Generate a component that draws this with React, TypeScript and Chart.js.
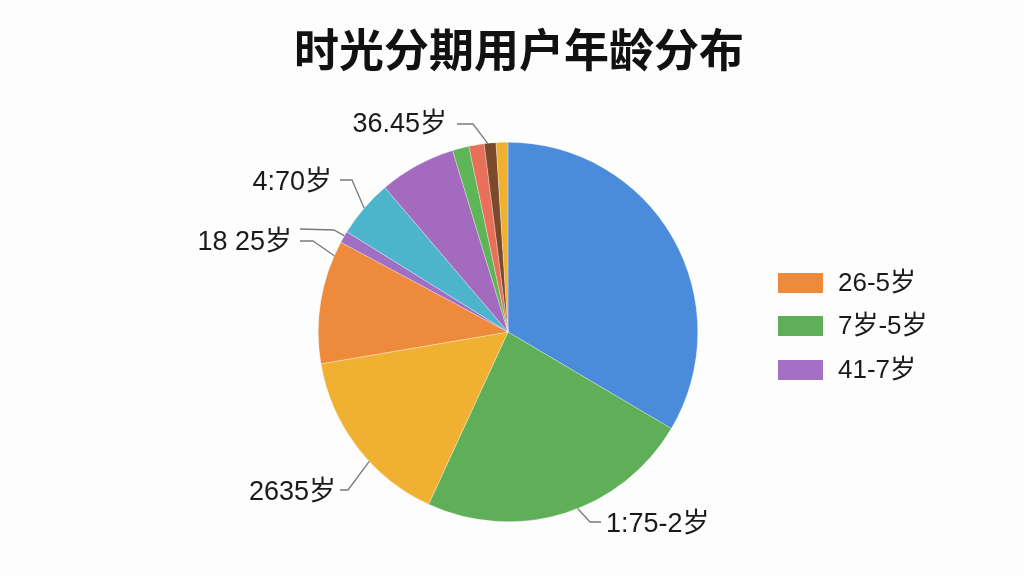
import React, { useEffect, useRef } from 'react';
import { Chart, registerables } from 'chart.js';

Chart.register(...registerables);

const titleText = '时光分期用户年龄分布';
const sliceLabels = ['19-25岁', '26-35岁', '36-45岁', '26-5岁', '18岁以下', '46-50岁', '41-7岁', '51-55岁', '56-60岁', '61-65岁', '65岁以上'];
const sliceValues = [33.4, 23.3, 15.4, 10.5, 1.0, 4.9, 6.5, 1.4, 1.3, 1.0, 1.0];
const sliceColors = ['#4A8BDB', '#5EAF58', '#F0B133', '#EE8A3C', '#9E6FC2', '#4DB5CB', '#A46ABE', '#5DB557', '#E8705A', '#7A4A2A', '#F0B030'];

const legendNames = ['26-5岁', '7岁-5岁', '41-7岁'];
const legendColors = ['#EE8A3C', '#5EAF58', '#A370C5'];

// callout labels: text, slice index, fraction within slice
const calloutTexts = ['36.45岁', '4:70岁', '18 25岁', '2635岁', '1:75-2岁'];
const calloutSlices = [[9], [5], [4, 3], [2], [1]];
const calloutFractions = [[0.3], [0.5], [0.6, 0.88], [0.4], [0.45]];

const calloutPlugin = {
  id: 'callouts',
  afterDraw(chart: any) {
    const ctx = chart.ctx;
    const meta = chart.getDatasetMeta(0);
    const edge = (idx: number, frac: number) => {
      const arc = meta.data[idx];
      const p = arc.getProps(['x', 'y', 'startAngle', 'endAngle', 'outerRadius'], true);
      const a = p.startAngle + (p.endAngle - p.startAngle) * frac;
      return { x: p.x + Math.cos(a) * p.outerRadius, y: p.y + Math.sin(a) * p.outerRadius };
    };
    ctx.save();
    // title
    ctx.fillStyle = '#111';
    ctx.font = 'bold 45px "Noto Sans CJK SC", sans-serif';
    ctx.textAlign = 'center';
    ctx.textBaseline = 'middle';
    ctx.fillText(titleText, 519, 50);

    ctx.strokeStyle = '#7a7a7a';
    ctx.lineWidth = 1.3;
    const line = (pts: { x: number; y: number }[]) => {
      ctx.beginPath();
      ctx.moveTo(pts[0].x, pts[0].y);
      for (let i = 1; i < pts.length; i++) ctx.lineTo(pts[i].x, pts[i].y);
      ctx.stroke();
    };
    const e0 = edge(calloutSlices[0][0], calloutFractions[0][0]);
    line([{ x: 457, y: 124 }, { x: 473, y: 124 }, e0]);
    const e1 = edge(calloutSlices[1][0], calloutFractions[1][0]);
    line([{ x: 340, y: 180 }, { x: 352, y: 180 }, e1]);
    const e2a = edge(calloutSlices[2][0], calloutFractions[2][0]);
    line([{ x: 300, y: 229 }, { x: 334, y: 230 }, e2a]);
    const e2b = edge(calloutSlices[2][1], calloutFractions[2][1]);
    line([{ x: 300, y: 241 }, { x: 313, y: 241 }, e2b]);
    const e3 = edge(calloutSlices[3][0], calloutFractions[3][0]);
    line([{ x: 340, y: 490 }, { x: 348, y: 490 }, e3]);
    const e4 = edge(calloutSlices[4][0], calloutFractions[4][0]);
    line([e4, { x: 590, y: 522 }, { x: 601, y: 522 }]);

    ctx.fillStyle = '#1a1a1a';
    ctx.font = '27px "Liberation Sans", "Noto Sans CJK SC", sans-serif';
    ctx.textBaseline = 'middle';
    ctx.textAlign = 'right';
    ctx.fillText(calloutTexts[0], 447, 125);
    ctx.fillText(calloutTexts[1], 332, 183);
    ctx.fillText(calloutTexts[2], 292, 243);
    ctx.fillText(calloutTexts[3], 336, 493);
    ctx.textAlign = 'left';
    ctx.fillText(calloutTexts[4], 606, 525);

    // legend
    ctx.font = '26px "Liberation Sans", "Noto Sans CJK SC", sans-serif';
    const ys = [283, 326, 370];
    legendNames.forEach((name, i) => {
      ctx.fillStyle = legendColors[i];
      ctx.fillRect(778, ys[i] - 10, 45, 20);
      ctx.fillStyle = '#1a1a1a';
      ctx.textAlign = 'left';
      ctx.fillText(name, 838, ys[i] + 1);
    });
    ctx.restore();
  },
};

export default function App() {
  const ref = useRef<HTMLCanvasElement>(null);
  useEffect(() => {
    if (!ref.current) return;
    const chart = new Chart(ref.current, {
      type: 'pie',
      data: {
        labels: sliceLabels,
        datasets: [
          {
            data: sliceValues,
            backgroundColor: sliceColors,
            borderColor: 'rgba(255,255,255,0.6)',
            borderWidth: 0.5,
          },
        ],
      },
      options: {
        responsive: true,
        maintainAspectRatio: false,
        animation: false,
        layout: { padding: { left: 318, right: 326, top: 142, bottom: 54 } },
        plugins: {
          legend: { display: false },
          tooltip: { enabled: false },
          title: { display: false },
        },
      },
      plugins: [calloutPlugin],
    });
    return () => chart.destroy();
  }, []);
  return (
    <div style={{ position: 'absolute', left: 0, top: 0, width: 1024, height: 576, background: '#fdfdfd' }}>
      <canvas ref={ref} />
    </div>
  );
}
